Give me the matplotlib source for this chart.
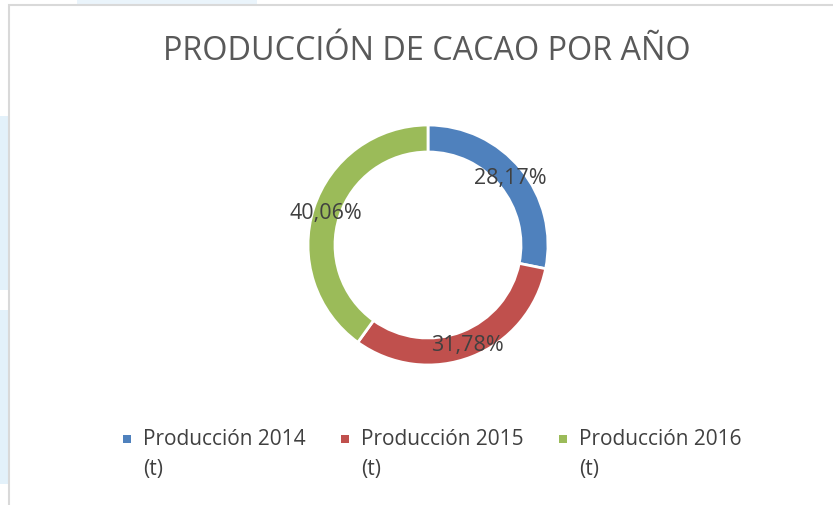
import matplotlib
matplotlib.use("Agg")
import matplotlib.pyplot as plt
from matplotlib.patches import Rectangle
import numpy as np

title = "PRODUCCIÓN DE CACAO POR AÑO"
categories = ["Producción 2014 (t)", "Producción 2015 (t)", "Producción 2016 (t)"]
legend_lines = [("Producción 2014", "(t)"), ("Producción 2015", "(t)"), ("Producción 2016", "(t)")]
values = [28.17, 31.78, 40.06]
colors = ["#4f81bd", "#c0504d", "#9bbb59"]

plt.rcParams['font.family'] = ['Open Sans', 'DejaVu Sans']

W, H = 833, 506
fig = plt.figure(figsize=(W / 100, H / 100), dpi=100)
fig.patch.set_facecolor("white")

def px_rect(x0, y0, x1, y1, **kw):
    # rectangle in pixel coords (top-left origin)
    fig.patches.append(Rectangle((x0 / W, 1 - y1 / H), (x1 - x0) / W, (y1 - y0) / H,
                                 transform=fig.transFigure, figure=fig, **kw))

# screenshot background artifacts
px_rect(77, 0, 257, 5, facecolor="#eaf4fb", edgecolor="none")
px_rect(0, 117, 8, 291, facecolor="#e3f1fa", edgecolor="none")
px_rect(0, 311, 8, 485, facecolor="#e3f1fa", edgecolor="none")
# chart border
px_rect(8.5, 5.5, 840, 520, facecolor="none", edgecolor="#d9d9d9", linewidth=1.5)

cx, cy, r = 428, 246, 120
ax = fig.add_axes([(cx - r) / W, 1 - (cy + r) / H, 2 * r / W, 2 * r / H])

labels_pct = [f"{v:.2f}".replace(".", ",") + "%" for v in values]
wedges, _ = ax.pie(values, colors=colors, startangle=90, counterclock=False, radius=1,
                   wedgeprops=dict(width=0.225, edgecolor="white", linewidth=2))
ax.set_xlim(-1, 1)
ax.set_ylim(-1, 1)
ax.axis("off")

total = sum(values)
cum = 0
for v, lab in zip(values, labels_pct):
    mid = 90 - (cum + v / 2) / total * 360
    cum += v
    rr = 0.89
    ax.text(rr * np.cos(np.radians(mid)), rr * np.sin(np.radians(mid)), lab,
            ha="center", va="center", fontsize=15.5, color="#404040")

fig.text(427 / W, 1 - 52 / H, title, ha="center", va="center", fontsize=23.3,
         color="#595959")

# legend
xs = [127, 345, 563]
for x, (l1, l2), c in zip(xs, legend_lines, colors):
    px_rect(x - 4, 436, x + 4, 444, facecolor=c, edgecolor="none")
    fig.text((x + 16) / W, 1 - 440 / H, l1, ha="left", va="center", fontsize=15, color="#404040")
    fig.text((x + 16) / W, 1 - 470 / H, l2, ha="left", va="center", fontsize=15, color="#404040")

fig.savefig("out.png", dpi=100, facecolor="white")
